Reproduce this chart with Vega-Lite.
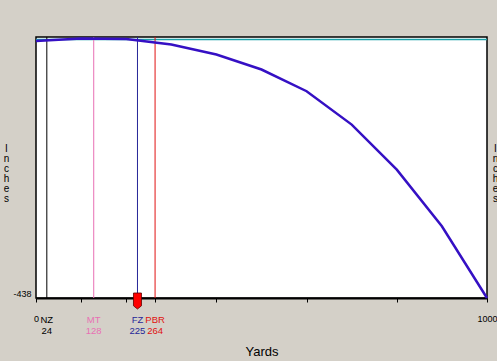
{
  "$schema": "https://vega.github.io/schema/vega-lite/v6.json",
  "autosize": {"type": "none"},
  "padding": {"left": 36, "top": 37, "right": 10, "bottom": 63},
  "width": 451,
  "height": 261,
  "background": "#d4d0c8",
  "config": {
    "view": {"fill": "white", "stroke": "#000000", "strokeWidth": 1.5},
    "font": "Liberation Sans"
  },
  "datasets": {
    "traj": [
      {"yards": 0, "inches": -2.5},
      {"yards": 100, "inches": 1.8},
      {"yards": 200, "inches": 0.9},
      {"yards": 300, "inches": -8.5},
      {"yards": 400, "inches": -25.4},
      {"yards": 500, "inches": -50.9},
      {"yards": 600, "inches": -87.7},
      {"yards": 700, "inches": -144.2},
      {"yards": 800, "inches": -220.5},
      {"yards": 900, "inches": -316.6},
      {"yards": 1000, "inches": -438}
    ],
    "marks": [
      {"marker": "NZ", "yards": 24},
      {"marker": "MT", "yards": 128},
      {"marker": "FZ", "yards": 225},
      {"marker": "PBR", "yards": 264}
    ]
  },
  "resolve": {"axis": {"y": "independent"}},
  "layer": [
    {
      "data": {"values": [{"los": 0}]},
      "mark": {"type": "rule", "color": "#1aa0a8", "strokeWidth": 1.5},
      "encoding": {
        "y": {
          "field": "los", "type": "quantitative",
          "scale": {"domain": [-438, 4.2], "nice": false, "zero": false},
          "axis": {
            "orient": "right", "labels": false, "ticks": false, "domain": false, "grid": false,
            "title": ["I", "n", "c", "h", "e", "s"],
            "titleAngle": 0, "titleX": 8, "titleY": 106, "titleAlign": "center", "titleBaseline": "top",
            "titleFontSize": 10, "titleLineHeight": 10, "titleFontWeight": "normal", "titleColor": "#000000",
            "titleFont": "Liberation Sans"
          }
        }
      }
    },
    {
      "data": {"name": "marks"},
      "mark": {"type": "rule", "strokeWidth": 1},
      "encoding": {
        "x": {"field": "yards", "type": "quantitative"},
        "color": {
          "field": "marker", "type": "nominal", "legend": null,
          "scale": {"domain": ["NZ", "MT", "FZ", "PBR"], "range": ["#000000", "#e870b4", "#262698", "#e01010"]}
        }
      }
    },
    {
      "data": {"name": "traj"},
      "mark": {"type": "line", "color": "#3510c4", "strokeWidth": 2.5},
      "encoding": {
        "x": {
          "field": "yards", "type": "quantitative",
          "scale": {"domain": [0, 1000], "nice": false, "zero": false},
          "axis": {
            "values": [0, 24, 100, 128, 200, 225, 264, 300, 400, 500, 600, 700, 800, 900, 1000],
            "labelExpr": "datum.value == 0 || datum.value == 1000 ? '' + datum.value : ''",
            "labelFlush": false, "labelOverlap": false,
            "grid": false, "tickSize": 4, "tickColor": "#000000", "domainColor": "#000000", "domainWidth": 2,
            "labelFontSize": 9, "labelColor": "#000000", "labelPadding": 12,
            "title": "Yards", "titleFontSize": 13, "titleFontWeight": "normal", "titleColor": "#000000",
            "titleY": 47, "titleBaseline": "top", "titleFont": "Liberation Sans"
          }
        },
        "y": {
          "field": "inches", "type": "quantitative",
          "axis": {
            "values": [-438], "labelExpr": "'' + datum.value", "domain": false, "ticks": false, "grid": false,
            "labelFontSize": 9, "labelColor": "#000000", "labelPadding": 5, "labelBaseline": "bottom",
            "title": ["I", "n", "c", "h", "e", "s"],
            "titleAngle": 0, "titleX": -30, "titleY": 106, "titleAlign": "center", "titleBaseline": "top",
            "titleFontSize": 10, "titleLineHeight": 10, "titleFontWeight": "normal", "titleColor": "#000000",
            "titleFont": "Liberation Sans"
          }
        }
      }
    },
    {
      "data": {"name": "marks"},
      "mark": {"type": "text", "dy": 17, "baseline": "top", "align": "center", "fontSize": 9.5},
      "encoding": {
        "x": {"field": "yards", "type": "quantitative"},
        "y": {"datum": -438, "type": "quantitative", "axis": null},
        "text": {"field": "marker"},
        "color": {"field": "marker", "type": "nominal", "legend": null}
      }
    },
    {
      "data": {"name": "marks"},
      "mark": {"type": "text", "dy": 28, "baseline": "top", "align": "center", "fontSize": 9.5},
      "encoding": {
        "x": {"field": "yards", "type": "quantitative"},
        "y": {"datum": -438, "type": "quantitative", "axis": null},
        "text": {"field": "yards", "type": "quantitative"},
        "color": {"field": "marker", "type": "nominal", "legend": null}
      }
    },
    {
      "data": {"name": "marks"},
      "transform": [{"filter": "datum.marker == 'FZ'"}],
      "mark": {
        "type": "point", "filled": true, "fill": "#ff0000", "stroke": "#600000", "strokeWidth": 0.8,
        "opacity": 1, "size": 64, "yOffset": 3,
        "shape": "M-1,-2 L1,-2 L1,1.2 L0,2 L-1,1.2 Z"
      },
      "encoding": {
        "x": {"field": "yards", "type": "quantitative"},
        "y": {"datum": -438, "type": "quantitative", "axis": null}
      }
    }
  ]
}
